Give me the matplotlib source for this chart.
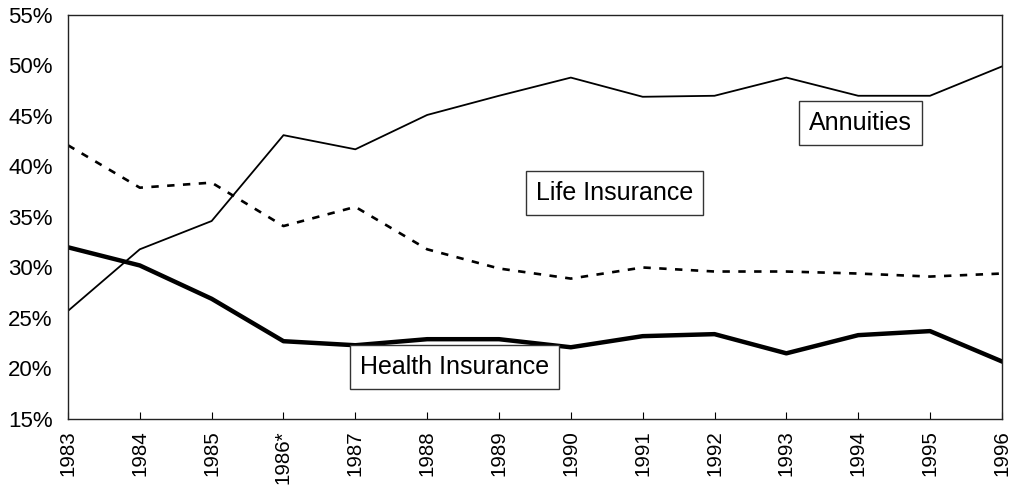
import matplotlib
matplotlib.use("Agg")
import numpy as np
from matplotlib import pyplot as plt

years = ['1983', '1984', '1985', '1986*', '1987', '1988', '1989', '1990',
         '1991', '1992', '1993', '1994', '1995', '1996']
annuities = [25.7, 31.8, 34.6, 43.1, 41.7, 45.1, 47.0, 48.8,
             46.9, 47.0, 48.8, 47.0, 47.0, 49.9]
life = [42.1, 37.9, 38.4, 34.1, 36.0, 31.8, 29.9, 28.9,
        30.0, 29.6, 29.6, 29.4, 29.1, 29.4]
health = [32.0, 30.2, 26.9, 22.7, 22.3, 22.9, 22.9, 22.1,
          23.2, 23.4, 21.5, 23.3, 23.7, 20.7]

plt.rcParams['font.family'] = ['Liberation Sans', 'DejaVu Sans']

fig = plt.figure(figsize=(10.13, 4.86), dpi=100)
ax = fig.add_axes([0.0671, 0.1379, 0.9219, 0.8313])

x = np.arange(len(years))
ax.plot(x, annuities, color='black', lw=1.3)
ax.plot(x, life, color='black', lw=1.9, linestyle=(0, (2.8, 3.2)))
ax.plot(x, health, color='black', lw=3.2)

ax.set_xlim(0, len(years) - 1)
ax.set_ylim(15, 55)
ax.set_yticks(range(15, 56, 5))
ax.set_yticklabels([f'{v}%' for v in range(15, 56, 5)], fontsize=16)
ax.set_xticks(x)
ax.set_xticklabels(years, rotation=90, fontsize=14.8)
ax.tick_params(axis='y', length=0, pad=11)
ax.tick_params(axis='x', direction='in', length=5, pad=8)
for s in ax.spines.values():
    s.set_color('#222222')
    s.set_linewidth(1.0)

box = dict(boxstyle='square,pad=0.4', facecolor='white', edgecolor='#333333', linewidth=1.0)
ax.text(11.03, 44.26, 'Annuities', fontsize=18, ha='center', va='center', bbox=box)
ax.text(7.61, 37.33, 'Life Insurance', fontsize=18, ha='center', va='center', bbox=box)
ax.text(5.38, 20.15, 'Health Insurance', fontsize=18, ha='center', va='center', bbox=box)

fig.savefig('out.png', dpi=100)
